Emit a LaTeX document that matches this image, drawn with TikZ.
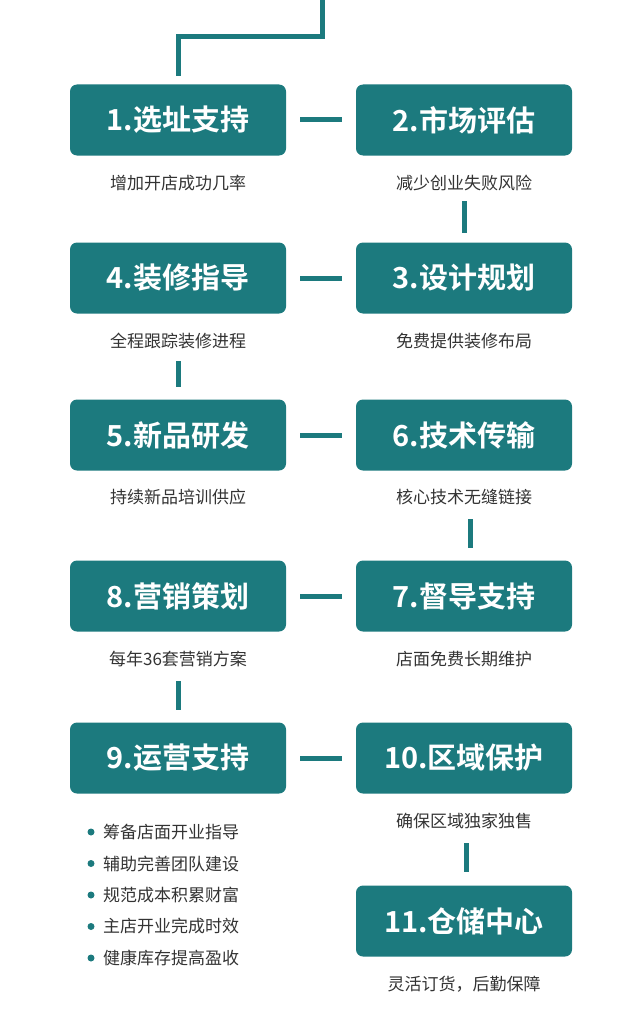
\documentclass[tikz,border=0pt]{standalone}
\usepackage{fontspec}
\newfontfamily\cjk{Noto Sans CJK SC}[BoldFont={Noto Sans CJK SC Bold}]
\definecolor{teal1}{HTML}{1C7A7E}
\definecolor{txt}{HTML}{333333}
\begin{document}
\begin{tikzpicture}[x=1pt,y=-1pt,
  box/.style={fill=teal1,rounded corners=7pt,minimum width=216pt,minimum height=71pt,inner sep=0pt,text=white,font=\cjk\bfseries\fontsize{29}{29}\selectfont},
  sub/.style={text=txt,font=\cjk\fontsize{17}{17}\selectfont,inner sep=0pt},
  ln/.style={draw=teal1,line width=5pt}]
\useasboundingbox (0,0) rectangle (640,1022);
\node[box] (b1) at (178,120) {1.选址支持};
\node[box] (b2) at (464,120) {2.市场评估};
\node[box] (b4) at (178,278) {4.装修指导};
\node[box] (b3) at (464,278) {3.设计规划};
\node[box] (b5) at (178,435) {5.新品研发};
\node[box] (b6) at (464,435) {6.技术传输};
\node[box] (b8) at (178,596) {8.营销策划};
\node[box] (b7) at (464,596) {7.督导支持};
\node[box] (b9) at (178,758) {9.运营支持};
\node[box] (b10) at (464,758) {10.区域保护};
\node[box] (b11) at (464,921) {11.仓储中心};
\node[sub] (s1) at (178,183) {增加开店成功几率};
\node[sub] (s2) at (464,183) {减少创业失败风险};
\node[sub] (s4) at (178,341) {全程跟踪装修进程};
\node[sub] (s3) at (464,341) {免费提供装修布局};
\node[sub] (s5) at (178,497) {持续新品培训供应};
\node[sub] (s6) at (464,497) {核心技术无缝链接};
\node[sub] (s8) at (178,659) {每年36套营销方案};
\node[sub] (s7) at (464,659) {店面免费长期维护};
\node[sub] (s10) at (464,821) {确保区域独家独售};
\node[sub] (s11) at (464,984) {灵活订货，后勤保障};
\foreach \t [count=\i] in {筹备店面开业指导,辅助完善团队建设,规范成本积累财富,主店开业完成时效,健康库存提高盈收}{
  \fill[teal1] (91,{832+31.5*(\i-1)}) circle (3.5pt);
  \node[sub,anchor=west] (l\i) at (103,{832+31.5*(\i-1)}) {\t};
}
\coordinate (t0) at (322,0);
\coordinate (t1) at (322,37);
\coordinate (t2) at (178,37);
\coordinate (t3) at (178,76);
\draw[ln] (t0) -- (t1) -- (t2) -- (t3);
\draw[ln] ([xshift=14pt]b1.east) -- ([xshift=-14pt]b2.west);
\draw[ln] ([xshift=14pt]b4.east) -- ([xshift=-14pt]b3.west);
\draw[ln] ([xshift=14pt]b5.east) -- ([xshift=-14pt]b6.west);
\draw[ln] ([xshift=14pt]b8.east) -- ([xshift=-14pt]b7.west);
\draw[ln] ([xshift=14pt]b9.east) -- ([xshift=-14pt]b10.west);
\draw[ln] ([yshift=-10pt]s2.south) -- ([yshift=9pt]b3.north);
\draw[ln] ([yshift=-12pt]s4.south) -- ([yshift=12pt]b5.north);
\draw[ln] ([xshift=6pt,yshift=-14pt]s6.south) -- ([xshift=6pt,yshift=12pt]b7.north);
\draw[ln] ([yshift=-14pt]s8.south) -- ([yshift=12pt]b9.north);
\draw[ln] ([xshift=2pt,yshift=-14pt]s10.south) -- ([xshift=2pt,yshift=13pt]b11.north);
\end{tikzpicture}
\end{document}
